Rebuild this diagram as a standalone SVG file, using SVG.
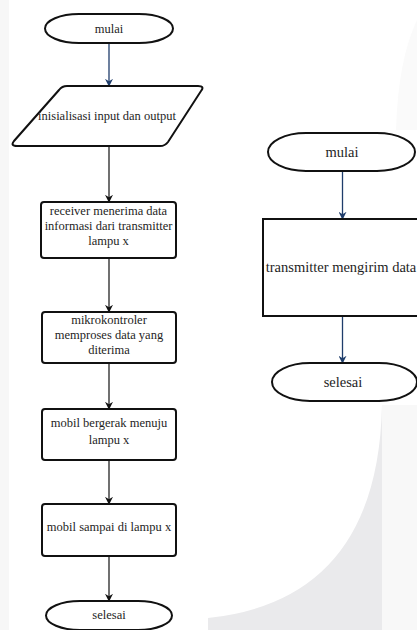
<svg xmlns="http://www.w3.org/2000/svg" width="417" height="630" viewBox="0 0 417 630">
<style>
.shape{fill:#ffffff;stroke:#111111;stroke-width:2}
.lbl{font-family:"Liberation Serif","Times New Roman",serif;font-size:12.5px;fill:#1e1e24;text-anchor:middle}
.lblr{font-family:"Liberation Serif","Times New Roman",serif;font-size:14.5px;fill:#1e1e24;text-anchor:middle}
.cb{fill:none;stroke:#1f3d6b;stroke-width:1.3}
.ck{fill:none;stroke:#111111;stroke-width:1.2}
</style>
<defs>
<marker id="ab" viewBox="0 0 10 10" refX="9" refY="5" markerWidth="8" markerHeight="8" markerUnits="userSpaceOnUse" orient="auto">
<path d="M0,0 L10,5 L0,10 L3,5 Z" fill="#1f3d6b"/>
</marker>
<marker id="ak" viewBox="0 0 10 10" refX="9" refY="5" markerWidth="8" markerHeight="8" markerUnits="userSpaceOnUse" orient="auto">
<path d="M0,0 L10,5 L0,10 L3,5 Z" fill="#111111"/>
</marker>
</defs>
<rect width="417" height="630" fill="#ffffff"/>
<g id="watermark">
<rect x="0" y="0" width="9" height="630" fill="#f7f7f7"/>
<path d="M382,405 L417,405 L417,630 L382,630 Z" fill="#f8f8f8"/>
<path d="M382,405 Q378,600 208,618 L208,630 L382,630 Z" fill="#eaeaec"/>
<path d="M417,20 Q398,60 396,130 L417,130 Z" fill="#fafafa"/>
</g>
<g id="connectors">
<line class="cb" x1="109" y1="43" x2="109" y2="86" marker-end="url(#ab)"/>
<line class="ck" x1="109" y1="146" x2="109" y2="202" marker-end="url(#ak)"/>
<line class="ck" x1="109" y1="258" x2="109" y2="312" marker-end="url(#ak)"/>
<line class="ck" x1="109" y1="363" x2="109" y2="409" marker-end="url(#ak)"/>
<line class="ck" x1="109" y1="460" x2="109" y2="504" marker-end="url(#ak)"/>
<line class="ck" x1="109" y1="556" x2="109" y2="601" marker-end="url(#ak)"/>
<line class="cb" x1="342.5" y1="171" x2="342.5" y2="219" marker-end="url(#ab)"/>
<line class="cb" x1="342.5" y1="316" x2="342.5" y2="363" marker-end="url(#ab)"/>
</g>
<g id="start1">
<rect class="shape" x="45" y="14" width="128" height="29" rx="34" ry="14.5"/>
<text class="lbl" x="109" y="33">mulai</text>
</g>
<g id="io1">
<path class="shape" d="M67,86 L198,86 Q205,86 201,91 L168,142 Q165,146 160,146 L17,146 Q10,146 14,141 L59,90 Q62,86 67,86 Z"/>
<text class="lbl" x="107" y="120">inisialisasi input dan output</text>
</g>
<g id="proc1">
<rect class="shape" x="41" y="202" width="135" height="56" rx="3"/>
<text class="lbl" x="108.5" y="215">receiver menerima data</text>
<text class="lbl" x="108.5" y="230">informasi dari transmitter</text>
<text class="lbl" x="108.5" y="245">lampu x</text>
</g>
<g id="proc2">
<rect class="shape" x="42" y="312" width="134" height="51" rx="3"/>
<text class="lbl" x="109" y="324">mikrokontroler</text>
<text class="lbl" x="109" y="339">memproses data yang</text>
<text class="lbl" x="109" y="354">diterima</text>
</g>
<g id="proc3">
<rect class="shape" x="42" y="409" width="134" height="51" rx="3"/>
<text class="lbl" x="109" y="427">mobil bergerak menuju</text>
<text class="lbl" x="109" y="444">lampu x</text>
</g>
<g id="proc4">
<rect class="shape" x="42" y="504" width="134" height="52" rx="3"/>
<text class="lbl" x="109" y="531">mobil sampai di lampu x</text>
</g>
<g id="end1">
<rect class="shape" x="46" y="601" width="126" height="29" rx="34" ry="14.5"/>
<text class="lbl" x="109" y="619">selesai</text>
</g>
<g id="start2">
<rect class="shape" x="268" y="133" width="147" height="38" rx="38" ry="19"/>
<text class="lblr" x="342" y="157">mulai</text>
</g>
<g id="proc5">
<rect class="shape" x="263" y="219" width="158" height="97"/>
<text class="lblr" x="341" y="272">transmitter mengirim data</text>
</g>
<g id="end2">
<rect class="shape" x="272" y="363" width="145" height="38" rx="38" ry="19"/>
<text class="lblr" x="343" y="387">selesai</text>
</g>
</svg>
